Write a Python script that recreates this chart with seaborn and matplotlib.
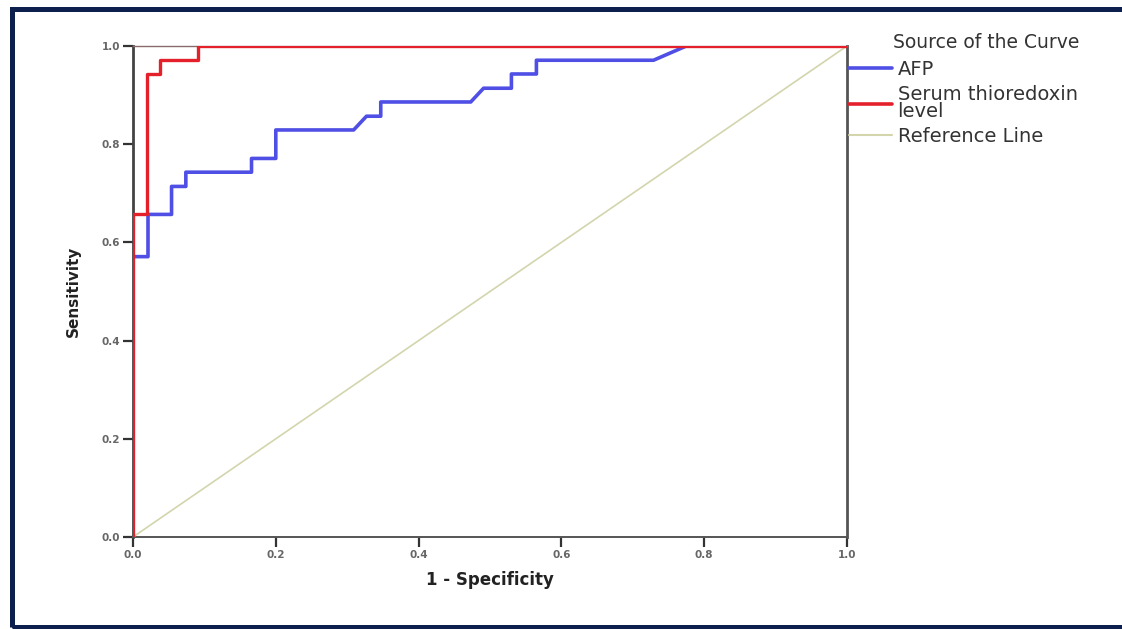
import matplotlib
matplotlib.use('Agg')
import matplotlib.pyplot as plt
import seaborn as sns
import pandas as pd
from matplotlib.patches import Rectangle

# ROC points (1 - specificity, sensitivity)
afp_fpr = [0.0, 0.0, 0.021, 0.021, 0.054, 0.054, 0.074, 0.074, 0.166, 0.166,
           0.200, 0.200, 0.309, 0.327, 0.347, 0.347, 0.473, 0.491, 0.530,
           0.530, 0.565, 0.565, 0.729, 0.775, 1.0]
afp_tpr = [0.0, 0.571, 0.571, 0.657, 0.657, 0.714, 0.714, 0.743, 0.743,
           0.771, 0.771, 0.829, 0.829, 0.857, 0.857, 0.886, 0.886, 0.914,
           0.914, 0.943, 0.943, 0.971, 0.971, 1.0, 1.0]

trx_fpr = [0.0, 0.0, 0.019, 0.019, 0.038, 0.038, 0.091, 0.091, 1.0]
trx_tpr = [0.0, 0.657, 0.657, 0.943, 0.943, 0.971, 0.971, 1.0, 1.0]

ref_x = [0.0, 1.0]
ref_y = [0.0, 1.0]

labels = ['AFP', 'Serum thioredoxin\nlevel', 'Reference Line']
colors = ['#4f4fe6', '#e4212b', '#d3d5ad']
ticks = [0.0, 0.2, 0.4, 0.6, 0.8, 1.0]

sns.set_style('white')
plt.rcParams['font.family'] = ['DejaVu Sans']

fig = plt.figure(figsize=(11.22, 6.29), dpi=100)
ax = fig.add_axes([133 / 1122, 1 - 537 / 629, 714 / 1122, 491 / 629])

df_ref = pd.DataFrame({'x': ref_x, 'y': ref_y})
df_afp = pd.DataFrame({'x': afp_fpr, 'y': afp_tpr})
df_trx = pd.DataFrame({'x': trx_fpr, 'y': trx_tpr})

sns.lineplot(data=df_ref, x='x', y='y', sort=False, estimator=None,
             color=colors[2], linewidth=1.2, ax=ax, label=labels[2])
sns.lineplot(data=df_afp, x='x', y='y', sort=False, estimator=None,
             color=colors[0], linewidth=2.6, ax=ax, label=labels[0])
sns.lineplot(data=df_trx, x='x', y='y', sort=False, estimator=None,
             color=colors[1], linewidth=2.4, ax=ax, label=labels[1])

# curves run along the frame: keep them clipped but above the spines
for i, ln in enumerate(ax.get_lines()):
    ln.set_zorder(3 + i)

ax.set_xlim(0, 1)
ax.set_ylim(0, 1)
ax.set_xticks(ticks)
ax.set_yticks(ticks)
ax.set_xticklabels([f'{t:.1f}' for t in ticks])
ax.set_yticklabels([f'{t:.1f}' for t in ticks])
ax.tick_params(axis='both', which='major', direction='out', length=7,
               width=1.6, color='#333333', labelsize=7.5, labelcolor='#666666',
               pad=2, left=True, bottom=True)
for lab in ax.get_xticklabels() + ax.get_yticklabels():
    lab.set_fontweight('bold')

ax.spines['left'].set_color('#444444')
ax.spines['left'].set_linewidth(2)
ax.spines['right'].set_color('#555555')
ax.spines['right'].set_linewidth(2)
ax.spines['bottom'].set_color('#555555')
ax.spines['bottom'].set_linewidth(1.4)
ax.spines['top'].set_color('#8a6a6a')
ax.spines['top'].set_linewidth(1)
for sp in ax.spines.values():
    sp.set_zorder(2)

ax.set_xlabel('1 - Specificity', fontsize=12, fontweight='bold',
              color='#222222', labelpad=8)
ax.set_ylabel('Sensitivity', fontsize=11, fontweight='bold',
              color='#222222', labelpad=15)

# legend outside to the right, in the same order as the reference
handles, labs = ax.get_legend_handles_labels()
order = [labs.index(l) for l in labels]
ax.get_legend().remove()
fig.text(986 / 1122, 1 - 42 / 629, 'Source of the Curve', fontsize=13.5,
         color='#333333', ha='center', va='center')
leg = fig.legend([handles[i] for i in order], [labs[i] for i in order],
                 loc='upper left', bbox_to_anchor=(849 / 1122, 1 - 60 / 629),
                 frameon=False, fontsize=14, handlelength=2.2,
                 handletextpad=0.3, borderpad=0, borderaxespad=0,
                 labelspacing=0.3)
for t in leg.get_texts():
    t.set_color('#333333')
    t.set_linespacing(0.9)
for h in leg.legend_handles:
    h.set_linewidth(2.6)
leg.legend_handles[2].set_linewidth(1.5)

# dark frame around the picture
fig.patches.append(Rectangle((11.5 / 1122, 2.5 / 629), 1.2, 618 / 629,
                             transform=fig.transFigure, fill=False,
                             edgecolor='#0c1f4d', linewidth=3.6))

fig.savefig('out.png', dpi=100)
